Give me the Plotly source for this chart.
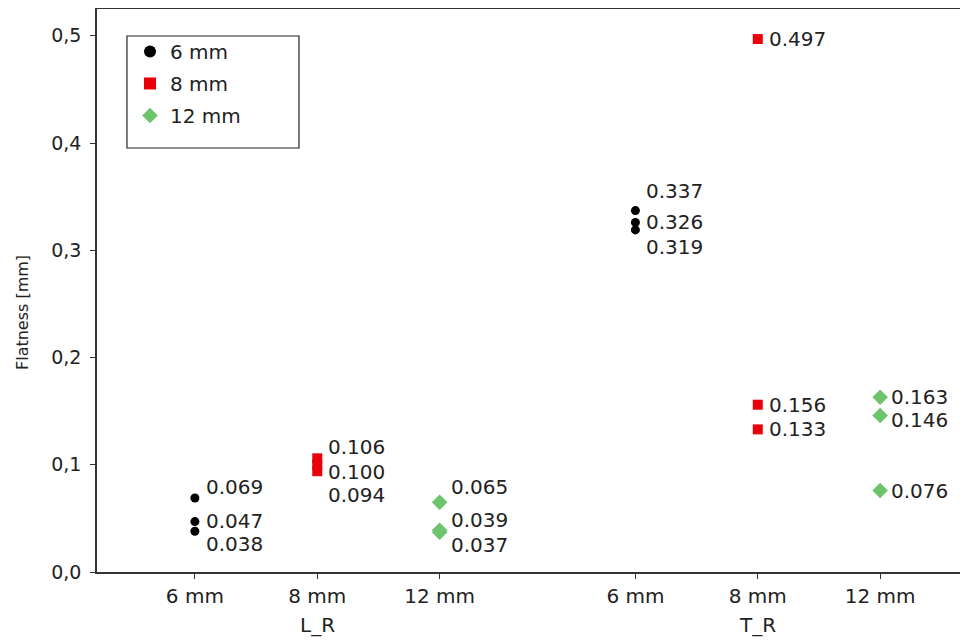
import plotly.graph_objects as go

groups = ["L_R", "T_R"]
categories = ["6 mm", "8 mm", "12 mm"]
series_names = ["6 mm", "8 mm", "12 mm"]

# values per series: [L_R values, T_R values]
vals_6mm = [[0.069, 0.047, 0.038], [0.337, 0.326, 0.319]]
vals_8mm = [[0.106, 0.100, 0.094], [0.497, 0.156, 0.133]]
vals_12mm = [[0.065, 0.039, 0.037], [0.163, 0.146, 0.076]]
labels_6mm = [["0.069", "0.047", "0.038"], ["0.337", "0.326", "0.319"]]
labels_8mm = [["0.106", "0.100", "0.094"], ["0.497", "0.156", "0.133"]]
labels_12mm = [["0.065", "0.039", "0.037"], ["0.163", "0.146", "0.076"]]

# label vertical offsets (px) to avoid overlap
shift_6mm = [[11, 1, -13], [20, 0, -17]]
shift_8mm = [[11, -7, -24], [0, 0, 0]]
shift_12mm = [[15, 10, -13], [0, -5, 0]]

GROUP_GAP = 1.6
def xpos(g, c):
    return 1 + g * (len(categories) - 1 + GROUP_GAP) + c

FONT = "DejaVu Sans"
TXT = "#222222"

fig = go.Figure()
series = [
    (vals_6mm, labels_6mm, shift_6mm, dict(symbol="circle", color="black", size=9)),
    (vals_8mm, labels_8mm, shift_8mm, dict(symbol="square", color="#e8000b", size=10)),
    (vals_12mm, labels_12mm, shift_12mm, dict(symbol="diamond", color="#6cc46c", size=12)),
]
annotations = []
for si, (vals, labs, shifts, mk) in enumerate(series):
    xs, ys = [], []
    for g in range(len(groups)):
        for v, lab, sh in zip(vals[g], labs[g], shifts[g]):
            x = xpos(g, si)
            xs.append(x)
            ys.append(v)
            annotations.append(dict(x=x, y=v, xref="x", yref="y", text=lab, showarrow=False,
                                    xanchor="left", yanchor="middle", xshift=9, yshift=sh,
                                    font=dict(family=FONT, size=20, color=TXT)))
    fig.add_trace(go.Scatter(x=xs, y=ys, mode="markers", name=series_names[si],
                             legendgroup=series_names[si],
                             marker=dict(symbol=mk["symbol"], color=mk["color"], size=mk["size"],
                                         line=dict(width=0))))

tickvals = [xpos(g, c) for g in range(len(groups)) for c in range(len(categories))]
ticktext = [c for g in groups for c in categories]

for g, name in enumerate(groups):
    annotations.append(dict(x=xpos(g, 1), y=0, xref="x", yref="paper", yshift=-53,
                            text=name, showarrow=False, yanchor="middle",
                            font=dict(family=FONT, size=20, color=TXT)))
annotations.append(dict(x=0, y=0.46, xref="paper", yref="paper", xshift=-75, xanchor="center",
                        text="Flatness [mm]", textangle=-90, showarrow=False,
                        font=dict(family=FONT, size=16, color=TXT)))

fig.update_layout(
    width=960, height=633,
    margin=dict(l=89, r=0, t=1, b=69),
    paper_bgcolor="white", plot_bgcolor="white",
    separators=",.",
    font=dict(family=FONT, size=20, color=TXT),
    annotations=annotations,
    shapes=[dict(type="rect", xref="paper", yref="paper", x0=0.0344, x1=0.2319, y0=0.7531, y1=0.952,
                 line=dict(color="#222222", width=1.2), fillcolor="rgba(0,0,0,0)")],
    legend=dict(x=0.0379, y=0.9592, xanchor="left", yanchor="top",
                borderwidth=0, bgcolor="rgba(0,0,0,0)",
                font=dict(family=FONT, size=20, color=TXT),
                itemsizing="constant", tracegroupgap=3),
    xaxis=dict(range=[0.2, 7.318], tickvals=tickvals, ticktext=ticktext,
               showline=True, linecolor="#333333", linewidth=1.5, mirror=True,
               ticks="outside", ticklen=5, tickcolor="#333333", showgrid=False, zeroline=False,
               ticklabelstandoff=0,
               tickfont=dict(family=FONT, size=20, color=TXT)),
    yaxis=dict(range=[0, 0.525], tickvals=[0, 0.1, 0.2, 0.3, 0.4, 0.5], tickformat=".1f",
               showline=True, linecolor="#333333", linewidth=1.5,
               ticks="outside", ticklen=5, tickcolor="#333333", showgrid=False, zeroline=False,
               ticklabelstandoff=5,
               tickfont=dict(family=FONT, size=19, color=TXT)),
)
fig.write_html("out.html")
